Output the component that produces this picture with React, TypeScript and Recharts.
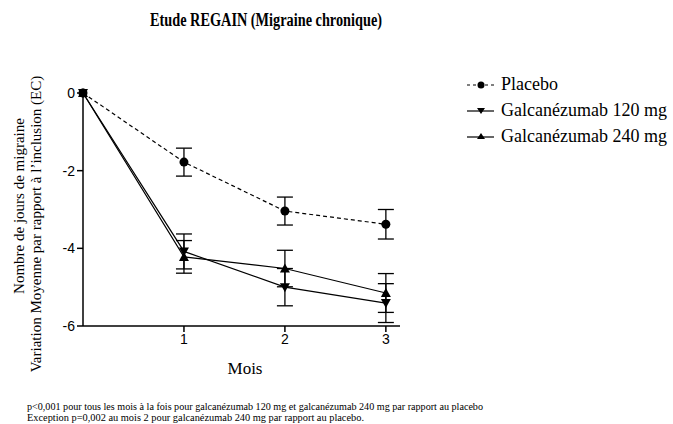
import React from 'react';
import { LineChart, Line, XAxis, YAxis, ErrorBar } from 'recharts';

const months = [0, 1, 2, 3];
const placebo = [0, -1.78, -3.04, -3.38];
const placeboErr = [0, 0.36, 0.36, 0.38];
const galca120 = [0, -4.08, -5.0, -5.41];
const galca120Err = [0, 0.45, 0.48, 0.5];
const galca240 = [0, -4.22, -4.52, -5.15];
const galca240Err = [0, 0.42, 0.47, 0.5];
const xTicks = [1, 2, 3];
const yTicks = [0, -2, -4, -6];

const data = months.map((m, i) => ({
    mois: m,
    placebo: placebo[i],
    placeboErr: placeboErr[i],
    g120: galca120[i],
    g120Err: galca120Err[i],
    g240: galca240[i],
    g240Err: galca240Err[i],
}));

const serif = '"Liberation Serif", "Times New Roman", serif';
const sans = '"Liberation Sans", Arial, sans-serif';

const CircleDot = (props: any) => {
    const { cx, cy } = props;
    if (cx == null || cy == null) return null;
    return <circle cx={cx} cy={cy} r={4.5} fill="#000" />;
};

const DownTri = (props: any) => {
    const { cx, cy } = props;
    if (cx == null || cy == null) return null;
    return <path d={`M${cx - 5},${cy - 4} L${cx + 5},${cy - 4} L${cx},${cy + 5} Z`} fill="#000" />;
};

const UpTri = (props: any) => {
    const { cx, cy } = props;
    if (cx == null || cy == null) return null;
    return <path d={`M${cx - 5},${cy + 4} L${cx + 5},${cy + 4} L${cx},${cy - 5} Z`} fill="#000" />;
};

const legendItems = [
    { label: 'Placebo', dash: '3 3', shape: 'circle' },
    { label: 'Galcanézumab 120 mg', dash: undefined, shape: 'down' },
    { label: 'Galcanézumab 240 mg', dash: undefined, shape: 'up' },
];

const App: React.FC = () => {
    return (
        <div style={{ position: 'absolute', left: 0, top: 0, width: 673, height: 424, background: '#fff', overflow: 'hidden' }}>
            <LineChart width={673} height={424} data={data} margin={{ top: 93, right: 273, left: 43, bottom: 68 }}>
                <XAxis
                    dataKey="mois"
                    type="number"
                    domain={[0, 3.14]}
                    ticks={xTicks}
                    height={30}
                    tick={{ fill: '#000', fontFamily: sans, fontSize: 14 }}
                    axisLine={{ stroke: '#000', strokeWidth: 1.5 }}
                    tickLine={{ stroke: '#000', strokeWidth: 1.5 }}
                    tickSize={6}
                />
                <YAxis
                    type="number"
                    domain={[-6, 0]}
                    ticks={yTicks}
                    width={40}
                    tickFormatter={(v: number) => String(v)}
                    tick={{ fill: '#000', fontFamily: sans, fontSize: 14 }}
                    axisLine={{ stroke: '#000', strokeWidth: 1.5 }}
                    tickLine={{ stroke: '#000', strokeWidth: 1.5 }}
                    tickSize={6}
                />
                <Line dataKey="placebo" stroke="#000" strokeWidth={1.2} strokeDasharray="4 3" dot={<CircleDot />} isAnimationActive={false}>
                    <ErrorBar dataKey="placeboErr" width={8} stroke="#000" strokeWidth={1.3} direction="y" />
                </Line>
                <Line dataKey="g120" stroke="#000" strokeWidth={1.2} dot={<DownTri />} isAnimationActive={false}>
                    <ErrorBar dataKey="g120Err" width={8} stroke="#000" strokeWidth={1.3} direction="y" />
                </Line>
                <Line dataKey="g240" stroke="#000" strokeWidth={1.2} dot={<UpTri />} isAnimationActive={false}>
                    <ErrorBar dataKey="g240Err" width={8} stroke="#000" strokeWidth={1.3} direction="y" />
                </Line>
            </LineChart>

            <svg width={673} height={424} style={{ position: 'absolute', left: 0, top: 0, pointerEvents: 'none' }}>
                <text x={150} y={26} textLength={232} lengthAdjust="spacingAndGlyphs" fontFamily={serif} fontWeight="bold" fontSize={18}>
                    Etude REGAIN (Migraine chronique)
                </text>
                <text x={21} y={206} transform="rotate(-90 21 206)" textAnchor="middle" dominantBaseline="middle" fontFamily={serif} fontSize={15}>
                    Nombre de jours de migraine
                </text>
                <text x={38} y={224} transform="rotate(-90 38 224)" textAnchor="middle" dominantBaseline="middle" fontFamily={serif} fontSize={15}>
                    Variation Moyenne par rapport à l’inclusion (EC)
                </text>
                <text x={245} y={374} textAnchor="middle" fontFamily={serif} fontSize={17}>Mois</text>
                {legendItems.map((it, i) => {
                    const y = 85 + i * 26;
                    return (
                        <g key={it.label}>
                            <line x1={467} x2={494} y1={y} y2={y} stroke="#000" strokeWidth={1.2} strokeDasharray={it.dash} />
                            {it.shape === 'circle' && <circle cx={481} cy={y} r={3.5} fill="#000" />}
                            {it.shape === 'down' && <path d={`M${477},${y - 3} L${485},${y - 3} L${481},${y + 3} Z`} fill="#000" />}
                            {it.shape === 'up' && <path d={`M${477},${y + 2} L${485},${y + 2} L${481},${y - 4} Z`} fill="#000" />}
                            <text x={501} y={y + 5} fontFamily={serif} fontSize={18}>{it.label}</text>
                        </g>
                    );
                })}
                <text x={27} y={410} textLength={456} lengthAdjust="spacingAndGlyphs" fontFamily={serif} fontSize={10}>
                    p&lt;0,001 pour tous les mois à la fois pour galcanézumab 120 mg et galcanézumab 240 mg par rapport au placebo
                </text>
                <text x={27} y={421} textLength={337} lengthAdjust="spacingAndGlyphs" fontFamily={serif} fontSize={10}>
                    Exception p=0,002 au mois 2 pour galcanézumab 240 mg par rapport au placebo.
                </text>
            </svg>
        </div>
    );
};

export default App;
